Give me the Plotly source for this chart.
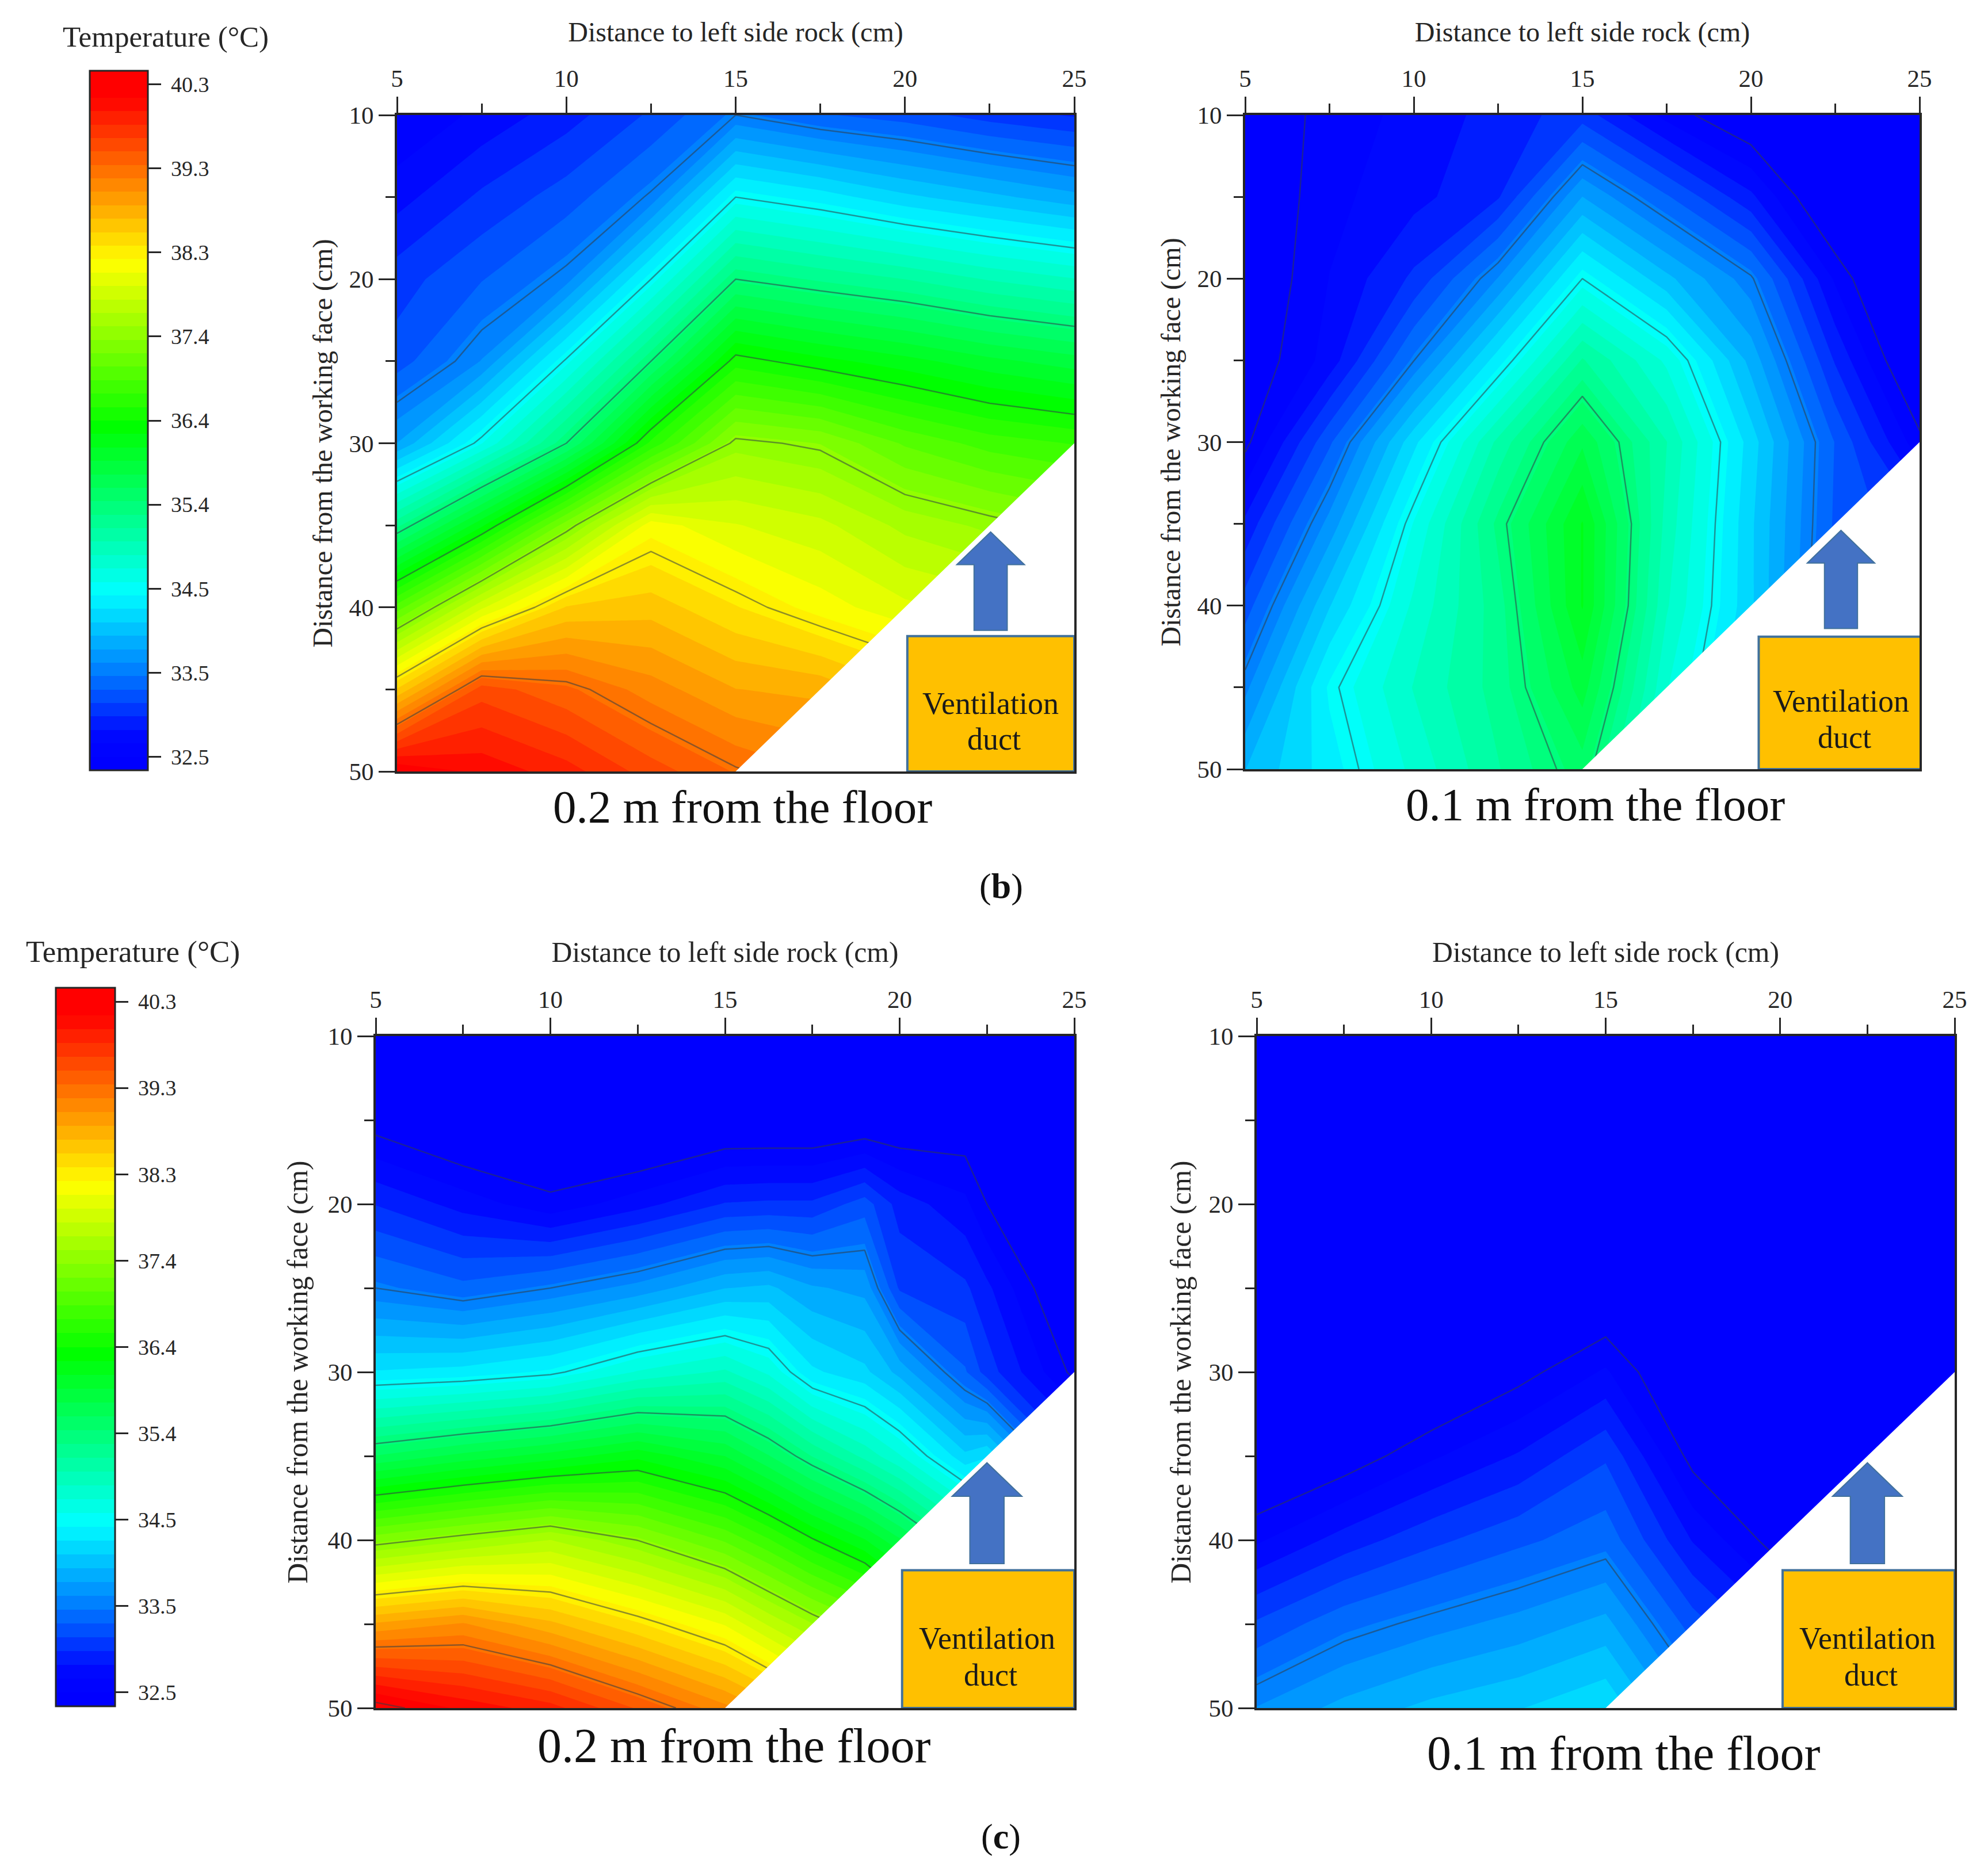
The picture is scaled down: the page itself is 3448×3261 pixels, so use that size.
import plotly.graph_objects as go

W, H = 3448, 3261
PAGE_PAD = 8  # the page body keeps this margin round the figure
FW, FH = W - 2 * PAGE_PAD, H - 2 * PAGE_PAD

x_cm = [5, 7.5, 10, 12.5, 15, 17.5, 20, 22.5, 25]
x_cm_c_upper = [5, 7.5, 10, 12.5, 15, 16.25, 17.5, 19, 20, 21.875, 22.5, 25]
y_cm = [10, 15, 20, 25, 30, 35, 40, 45, 50]

# temperature, one row per y_cm, one column per x position
b_upper = [
    [32.50, 32.70, 32.90, 33.15, 33.475, 33.30, 33.20, 33.05, 32.95],
    [32.75, 33.00, 33.20, 33.50, 34.45, 34.30, 34.10, 33.95, 33.80],
    [33.05, 33.27, 33.53, 34.45, 35.425, 35.28, 35.15, 34.98, 34.85],
    [33.20, 33.60, 34.48, 35.425, 36.48, 36.30, 36.15, 35.98, 35.85],
    [33.75, 34.52, 35.425, 36.60, 37.43, 37.33, 37.00, 36.80, 36.70],
    [35.26, 36.21, 37.27, 38.20, 37.97, 37.85, 37.60, 37.45, 37.30],
    [36.94, 37.93, 38.60, 38.67, 38.44, 38.20, 38.00, 37.90, 37.70],
    [38.60, 39.60, 39.40, 39.13, 38.90, 38.85, 38.60, 38.30, 38.00],
    [40.30, 40.10, 39.90, 39.60, 39.35, 39.20, 39.00, 38.70, 38.40],
]
b_lower = [
    [32.30, 32.58, 32.70, 32.88, 33.05, 32.60, 32.30, 32.10, 32.00],
    [32.30, 32.61, 32.76, 32.95, 33.75, 33.30, 32.85, 32.20, 31.90],
    [32.30, 32.66, 33.00, 33.60, 34.45, 33.95, 33.50, 32.63, 32.00],
    [32.35, 32.72, 33.47, 34.30, 35.17, 34.65, 33.85, 32.95, 32.20],
    [32.45, 33.25, 34.17, 35.04, 35.75, 35.00, 34.14, 33.27, 32.55],
    [32.85, 33.65, 34.54, 35.35, 36.10, 34.94, 34.09, 33.25, 33.00],
    [33.20, 34.05, 34.72, 35.24, 36.10, 34.86, 34.09, 33.20, 33.00],
    [33.55, 34.40, 34.85, 35.22, 35.85, 34.70, 34.00, 33.20, 33.00],
    [33.90, 34.30, 34.73, 35.14, 35.55, 34.50, 34.00, 33.20, 33.00],
]
c_upper = [
    [32.00, 31.90, 32.00, 32.00, 32.10, 32.10, 32.10, 32.10, 32.10, 32.10, 32.00, 31.90],
    [32.40, 32.20, 32.20, 32.10, 32.25, 32.25, 32.25, 32.30, 32.30, 32.35, 32.20, 32.00],
    [32.96, 32.75, 32.55, 32.75, 32.98, 33.00, 33.00, 33.20, 32.90, 32.70, 32.50, 32.05],
    [33.475, 33.33, 33.475, 33.65, 33.90, 33.94, 33.77, 33.70, 33.10, 33.00, 32.85, 32.20],
    [34.23, 34.28, 34.40, 34.70, 34.87, 34.65, 34.25, 34.10, 33.85, 33.30, 33.05, 32.45],
    [35.63, 35.83, 36.00, 36.20, 35.93, 35.63, 35.30, 34.95, 34.70, 34.10, 34.20, 33.00],
    [37.28, 37.47, 37.65, 37.37, 37.00, 36.73, 36.42, 36.10, 35.80, 35.20, 35.00, 34.00],
    [38.92, 39.07, 38.78, 38.45, 38.10, 37.78, 37.50, 37.20, 36.80, 36.20, 36.00, 35.00],
    [40.40, 40.10, 39.90, 39.50, 39.10, 38.85, 38.50, 38.10, 37.80, 37.20, 37.00, 36.00],
]
c_lower = [
    [31.00, 31.00, 31.00, 31.00, 31.00, 31.00, 31.00, 31.00, 31.00],
    [31.00, 31.00, 31.00, 31.20, 31.40, 31.20, 31.10, 31.00, 31.00],
    [31.00, 31.00, 31.30, 31.60, 31.90, 31.50, 31.30, 31.10, 31.00],
    [31.50, 31.50, 31.70, 32.10, 32.25, 31.90, 31.60, 31.20, 31.00],
    [32.00, 32.00, 32.20, 32.43, 32.68, 32.20, 32.00, 31.50, 31.20],
    [32.20, 32.38, 32.63, 32.83, 33.10, 32.43, 32.20, 31.70, 31.40],
    [32.63, 32.88, 33.08, 33.24, 33.38, 32.80, 32.40, 32.00, 31.60],
    [33.15, 33.39, 33.53, 33.65, 33.80, 33.20, 32.80, 32.30, 31.80],
    [33.60, 33.80, 33.95, 34.05, 34.20, 33.60, 33.20, 32.60, 32.00],
]

scale_ticks = [32.5, 33.5, 34.5, 35.4, 36.4, 37.4, 38.3, 39.3, 40.3]
tick_positions = [32.5, 33.475, 34.45, 35.425, 36.4, 37.375, 38.35, 39.325, 40.3]
x_ticks = [5, 10, 15, 20, 25]
y_ticks = [10, 20, 30, 40, 50]
mask_x = [25, 25, 15]
mask_y = [30, 50, 50]

BAND = 0.156
Z_LOW, Z_HIGH = 32.5 - BAND, 40.3 + BAND
scale_temps = [Z_LOW, 32.5, 32.8, 33.0, 33.475, 34.45, 36.4, 38.35, 40.3, Z_HIGH]
scale_cols = ["rgb(0,0,255)", "rgb(0,0,255)", "rgb(0,10,255)", "rgb(0,45,255)", "rgb(0,120,255)",
              "rgb(0,255,255)", "rgb(0,255,0)", "rgb(255,255,0)", "rgb(255,0,0)", "rgb(255,0,0)"]
JET = [[(t - Z_LOW) / (Z_HIGH - Z_LOW), c] for t, c in zip(scale_temps, scale_cols)]
SERIF = "Liberation Serif"
INK = "#262626"


def fx(px):
    return (px - PAGE_PAD) / FW


def fy(py):
    return 1 - (py - PAGE_PAD) / FH


# panel boxes in page pixels: left, right, top, bottom
panels = [
    dict(z=b_upper, xs=x_cm, box=(690, 1867, 200, 1341), label="0.2 m from the floor", lab=(1290, 1403), labsize=81,
         duct=(20.07, 25.0, 41.75), arrow=22.53, ystand=15, title=48, bar=(156, 257, 123, 1339), temp=(288, 64), tempsize=51),
    dict(z=b_lower, xs=x_cm, box=(2164, 3336, 200, 1337), label="0.1 m from the floor", lab=(2772, 1399), labsize=81,
         duct=(20.23, 25.15, 41.9), arrow=22.67, ystand=15, title=48),
    dict(z=c_upper, xs=x_cm_c_upper, box=(653, 1867, 1801, 2969), label="0.2 m from the floor", lab=(1276, 3034), labsize=84,
         duct=(20.07, 25.0, 41.8), arrow=22.5, ystand=20, title=49.7, bar=(97, 200, 1717, 2966), temp=(231, 1654), tempsize=53),
    dict(z=c_lower, xs=x_cm, box=(2184, 3397, 1801, 2969), label="0.1 m from the floor", lab=(2822, 3047), labsize=84,
         duct=(20.07, 25.0, 41.8), arrow=22.5, ystand=16, title=49.7),
]

fig = go.Figure()
layout = dict(width=FW, height=FH, margin=dict(l=0, r=0, t=0, b=0, autoexpand=False), paper_bgcolor="white",
              plot_bgcolor="white", showlegend=False, shapes=[], annotations=[],
              font=dict(family=SERIF, color=INK, size=40))

for i, p in enumerate(panels, start=1):
    L, R, T, B = p["box"]
    sfx = "" if i == 1 else str(i)
    xa, ya = f"x{sfx}", f"y{sfx}"
    trace = dict(x=p["xs"], y=y_cm, z=p["z"], xaxis=xa, yaxis=ya, hoverinfo="skip")
    if "bar" in p:
        bl, br, bt, bb = p["bar"]
        cb = dict(showscale=True, colorbar=dict(
            x=fx(bl), xanchor="left", xpad=0, ypad=0,
            y=fy(bb), yanchor="bottom", len=(bb - bt) / FH, lenmode="fraction",
            thickness=br - bl, thicknessmode="pixels", outlinecolor=INK, outlinewidth=3,
            tickvals=tick_positions, ticktext=[f"\u00a0{t:.1f}" for t in scale_ticks],
            ticks="outside", ticklen=22, tickwidth=3, tickcolor=INK,
            tickfont=dict(family=SERIF, size=38, color=INK)))
    else:
        cb = dict(showscale=False)
    fig.add_trace(go.Contour(
        **trace, colorscale=JET, zmin=Z_LOW, zmax=Z_HIGH, autocontour=False,
        contours=dict(start=Z_LOW, end=Z_HIGH, size=BAND, coloring="fill", showlines=False),
        line=dict(width=0, smoothing=0), **cb))
    fig.add_trace(go.Contour(
        **trace, showscale=False, autocontour=False,
        contours=dict(start=32.5, end=40.3, size=0.975, coloring="none", showlines=True),
        line=dict(color="rgba(50,60,70,0.55)", width=2.5, smoothing=0)))
    fig.add_trace(go.Scatter(x=mask_x, y=mask_y, xaxis=xa, yaxis=ya, mode="none",
                             fill="toself", fillcolor="white", hoverinfo="skip"))

    name = "" if i == 1 else str(i)
    layout[f"xaxis{name}"] = dict(
        domain=[fx(L), fx(R)], range=[5, 25], side="top", anchor=ya,
        tickvals=x_ticks, ticks="outside", ticklen=28, tickwidth=3, tickcolor=INK,
        minor=dict(tickvals=[7.5, 12.5, 17.5, 22.5], ticks="outside", ticklen=16, tickwidth=3, tickcolor=INK),
        showline=True, linecolor=INK, linewidth=4, mirror=True, showgrid=False, zeroline=False,
        tickfont=dict(family=SERIF, size=43, color=INK),
        title=dict(text="Distance to left side rock (cm)", standoff=26,
                   font=dict(family=SERIF, size=p["title"], color=INK)))
    layout[f"yaxis{name}"] = dict(
        domain=[fy(B), fy(T)], range=[50, 10], anchor=xa,
        tickvals=y_ticks, ticks="outside", ticklen=28, tickwidth=3, tickcolor=INK,
        minor=dict(tickvals=[15, 25, 35, 45], ticks="outside", ticklen=16, tickwidth=3, tickcolor=INK),
        showline=True, linecolor=INK, linewidth=4, mirror=True, showgrid=False, zeroline=False,
        tickfont=dict(family=SERIF, size=43, color=INK),
        title=dict(text="Distance from the working face (cm)", standoff=p["ystand"],
                   font=dict(family=SERIF, size=p["title"], color=INK)))

    # ventilation duct box and arrow, in the panel's own axis units
    x0, x1, y0 = p["duct"]
    layout["shapes"].append(dict(type="rect", xref=xa, yref=ya, x0=x0, x1=x1, y0=y0, y1=50,
                                 fillcolor="#FFC000", line=dict(color="#41719C", width=4), layer="above"))
    c = p["arrow"]
    path = (f"M {c-0.49} 41.4 L {c-0.49} 37.4 L {c-1.0} 37.4 L {c} 35.4 "
            f"L {c+1.0} 37.4 L {c+0.49} 37.4 L {c+0.49} 41.4 Z")
    layout["shapes"].append(dict(type="path", xref=xa, yref=ya, path=path, fillcolor="#4472C4",
                                 line=dict(color="#41719C", width=2), layer="above"))
    for word, wx, wy in [("Ventilation", c, 45.85), ("duct", c + 0.1, 48.05)]:
        layout["annotations"].append(dict(
            text=word, xref=xa, yref=ya, x=wx, y=wy,
            xanchor="center", yanchor="middle", showarrow=False,
            font=dict(family=SERIF, size=54, color="#1a1a1a")))
    lx, ly = p["lab"]
    layout["annotations"].append(dict(
        text=p["label"], xref="paper", yref="paper", x=fx(lx), y=fy(ly),
        xanchor="center", yanchor="middle", showarrow=False,
        font=dict(family=SERIF, size=p["labsize"], color="#111111")))
    if "temp" in p:
        tx, ty = p["temp"]
        layout["annotations"].append(dict(
            text="Temperature (°C)", xref="paper", yref="paper", x=fx(tx), y=fy(ty),
            xanchor="center", yanchor="middle", showarrow=False,
            font=dict(family=SERIF, size=p["tempsize"], color=INK)))

for text, px, py in [("(<b>b</b>)", 1740, 1540), ("(<b>c</b>)", 1740, 3192)]:
    layout["annotations"].append(dict(text=text, xref="paper", yref="paper", x=fx(px), y=fy(py),
                                      xanchor="center", yanchor="middle", showarrow=False,
                                      font=dict(family=SERIF, size=62, color="#111111")))

fig.update_layout(**layout)
fig.write_html("out.html")
